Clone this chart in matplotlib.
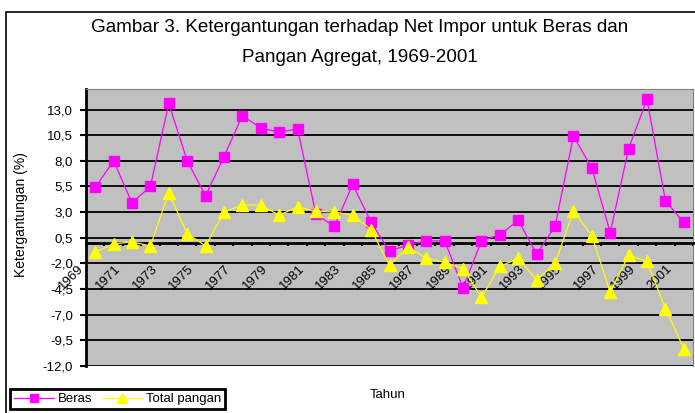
import numpy as np
import matplotlib
matplotlib.use('Agg')
import matplotlib.pyplot as plt
from matplotlib.patches import Rectangle

# data
years = list(range(1969, 2002))
beras = [5.4, 8.0, 3.9, 5.5, 13.6, 8.0, 4.6, 8.4, 12.4, 11.2, 10.8, 11.1,
         2.8, 1.6, 5.7, 2.0, -0.8, -0.2, 0.2, 0.2, -4.4, 0.2, 0.8, 2.2,
         -1.1, 1.6, 10.4, 7.3, 1.0, 9.2, 14.0, 4.1, 2.0]
total_pangan = [-0.9, -0.1, 0.1, -0.3, 4.9, 0.9, -0.3, 3.0, 3.7, 3.7, 2.7, 3.5,
                3.1, 3.0, 2.7, 1.3, -2.2, -0.4, -1.5, -1.9, -2.5, -5.3, -2.3, -1.5,
                -3.6, -2.0, 3.1, 0.7, -4.8, -1.2, -1.8, -6.4, -10.3]
yticks = [-12.0, -9.5, -7.0, -4.5, -2.0, 0.5, 3.0, 5.5, 8.0, 10.5, 13.0]
ytick_labels = ['-12,0', '-9,5', '-7,0', '-4,5', '-2,0', '0,5', '3,0', '5,5', '8,0', '10,5', '13,0']

plt.rcParams['font.family'] = ['Liberation Sans', 'DejaVu Sans']

W, H = 695, 413
fig = plt.figure(figsize=(W / 100, H / 100), dpi=100)
ax = fig.add_axes([86 / W, 1 - 366 / H, 607 / W, 277 / H])
ax.set_facecolor('#c0c0c0')

x = np.arange(len(years))
ax.plot(x, beras, color='#ff00ff', marker='s', ms=7, lw=0.9, label='Beras', zorder=4)
ax.plot(x, total_pangan, color='#ffff00', marker='^', ms=8, lw=0.9, label='Total pangan', zorder=4)

ax.set_xlim(-0.5, len(years) - 0.5)
ax.set_ylim(-12, 15)
ax.set_yticks(yticks)
ax.set_yticklabels(ytick_labels, fontsize=9.5)
ax.yaxis.grid(True, color='black', lw=1.3)
ax.set_axisbelow(True)

# category axis crosses at zero, ticks between categories
ax.spines['bottom'].set_position(('data', 0))
ax.spines['bottom'].set_linewidth(2)
ax.spines['left'].set_linewidth(2)
ax.spines['top'].set_color('#808080')
ax.spines['right'].set_color('#808080')
ax.set_xticks(np.arange(len(years) + 1) - 0.5)
xlabels = [str(years[k]) if (k % 2 == 0 and k < len(years)) else '' for k in range(len(years) + 1)]
ax.set_xticklabels(xlabels, rotation=45, ha='right', fontsize=9.5)
ax.tick_params(axis='x', direction='out', length=2.5, width=1.5, pad=12)
ax.tick_params(axis='y', direction='out', length=4.5, width=1.5, pad=5)

fig.text(360 / W, 1 - 28 / H, 'Gambar 3. Ketergantungan terhadap Net Impor untuk Beras dan',
         ha='center', va='center', fontsize=13.6)
fig.text(360 / W, 1 - 57 / H, 'Pangan Agregat, 1969-2001', ha='center', va='center', fontsize=13.6)
fig.text(21 / W, 1 - 215 / H, 'Ketergantungan (%)', rotation=90, ha='center', va='center', fontsize=10)
fig.text(388 / W, 1 - 395 / H, 'Tahun', ha='center', va='center', fontsize=9.5)

leg = fig.legend(loc='upper left', bbox_to_anchor=(10 / W, 1 - 389 / H), ncol=2,
                 fancybox=False, edgecolor='black', fontsize=9.5, handlelength=3,
                 borderpad=0.3, columnspacing=0.8, handletextpad=0.3, borderaxespad=0,
                 markerscale=0.85)
leg.get_frame().set_linewidth(2)
leg.get_frame().set_alpha(1)

fig.add_artist(Rectangle((6 / W, -0.05), 1.0, 1 - 12 / H + 0.05, transform=fig.transFigure,
                         fill=False, ec='black', lw=1.2))

fig.savefig('out.png', dpi=100)
